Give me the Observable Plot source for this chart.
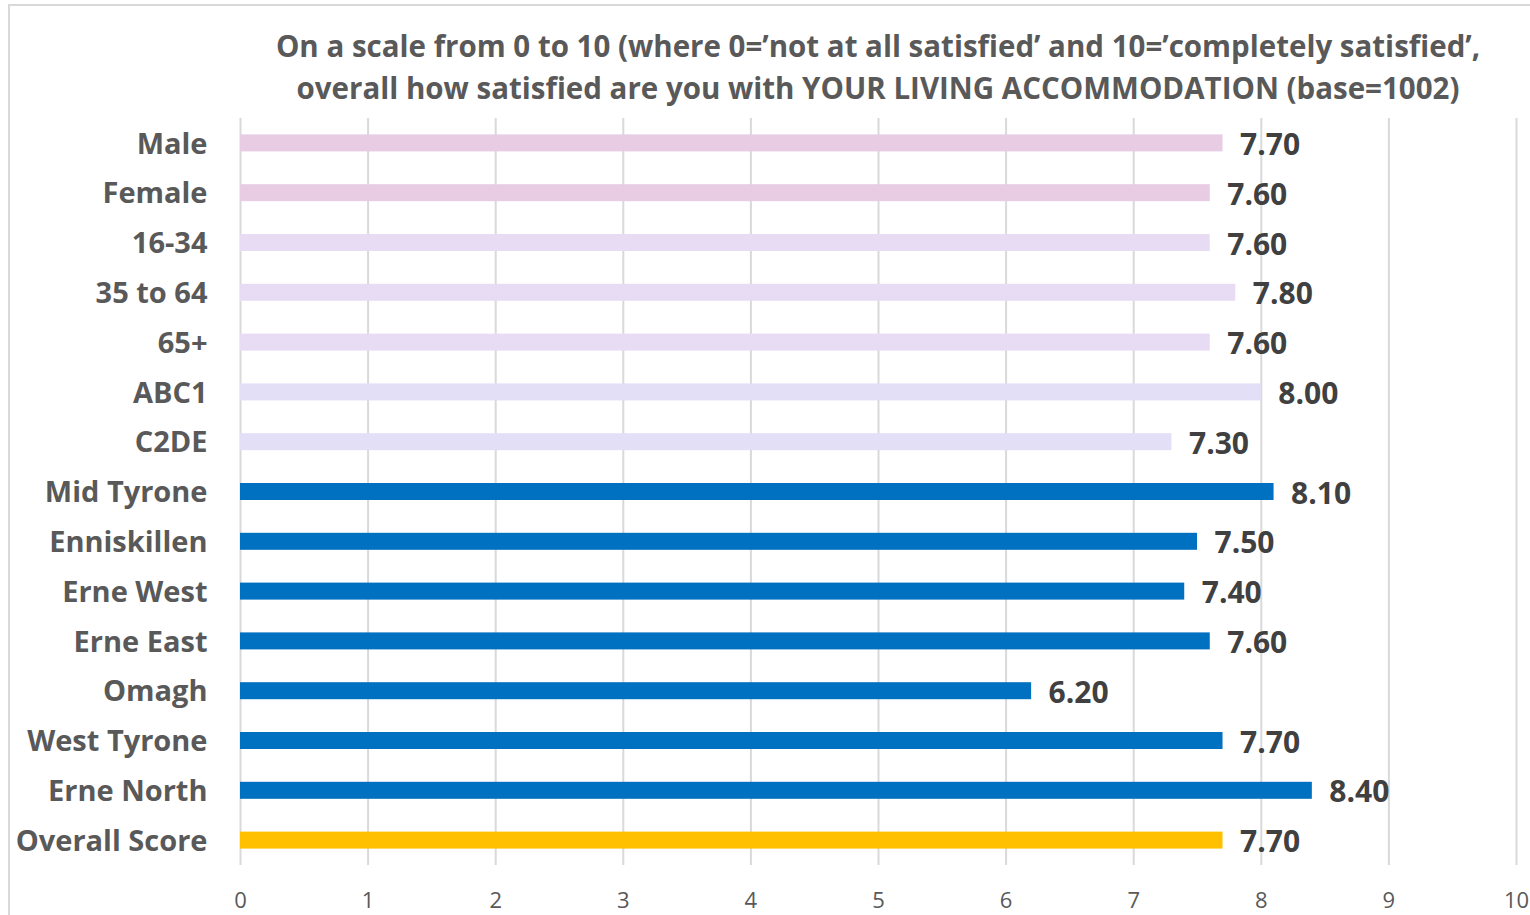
<!DOCTYPE html>
<html>
<head>
<meta charset="utf-8">
<script src="https://cdn.jsdelivr.net/npm/d3@7"></script>
<script src="https://cdn.jsdelivr.net/npm/@observablehq/plot@0.6"></script>
<style>
  html, body { margin: 0; padding: 0; background: #fff; }
  body { width: 1530px; height: 915px; position: relative; overflow: hidden; font-family: "Open Sans", Lato, sans-serif; }
  #frame { position: absolute; left: 8px; top: 4px; width: 1530px; height: 930px; border: 2px solid #d9d9d9; box-sizing: border-box; pointer-events: none; }
  #title { box-sizing: border-box; height: 110px; padding: 25px 14px 0 240px; text-align: center; font-size: 29.5px; line-height: 42px; font-weight: bold; color: #595959; white-space: nowrap; letter-spacing: 0; }
  #chart svg { display: block; }
</style>
</head>
<body>
<div id="frame"></div>
<div id="title">On a scale from 0 to 10 (where 0=’not at all satisfied’ and 10=’completely satisfied’,<br>overall how satisfied are you with YOUR LIVING ACCOMMODATION (base=1002)</div>
<div id="chart"></div>
<script>
const categories = ["Male", "Female", "16-34", "35 to 64", "65+", "ABC1", "C2DE", "Mid Tyrone", "Enniskillen", "Erne West", "Erne East", "Omagh", "West Tyrone", "Erne North", "Overall Score"];
const values = [7.70, 7.60, 7.60, 7.80, 7.60, 8.00, 7.30, 8.10, 7.50, 7.40, 7.60, 6.20, 7.70, 8.40, 7.70];
const groups = ["Gender", "Gender", "Age", "Age", "Age", "Class", "Class", "Area", "Area", "Area", "Area", "Area", "Area", "Area", "Overall"];
const xTicks = [0, 1, 2, 3, 4, 5, 6, 7, 8, 9, 10];

const groupNames = ["Gender", "Age", "Class", "Area", "Overall"];
const groupColors = ["#E7CCE4", "#E8DCF5", "#E2DFF7", "#0070C0", "#FFC000"];

const data = categories.map((c, i) => ({category: c, value: values[i], group: groups[i]}));

const chart = Plot.plot({
  width: 1530,
  height: 805,
  marginLeft: 240,
  marginRight: 14,
  marginTop: 8,
  marginBottom: 50,
  style: {fontFamily: "'Open Sans', Lato, sans-serif", color: "#595959", background: "transparent"},
  x: {domain: [0, 10], ticks: xTicks},
  y: {domain: categories, padding: 0, round: false},
  color: {domain: groupNames, range: groupColors},
  marks: [
    Plot.gridX(xTicks, {stroke: "#d9d9d9", strokeOpacity: 1, strokeWidth: 2}),
    Plot.barX(data, {x: "value", y: "category", fill: "group", insetTop: 16.4, insetBottom: 16.4}),
    Plot.text(data, {x: "value", y: "category", text: d => d.value.toFixed(2), dx: 17, dy: 2, textAnchor: "start", fontSize: 30, fontWeight: "bold", fill: "#404040"}),
    Plot.axisY({tickSize: 0, tickPadding: 33, fontSize: 29, fontWeight: "bold", label: null, dy: 1}),
    Plot.axisX({ticks: xTicks, tickSize: 0, tickPadding: 27, fontSize: 22, label: null, tickFormat: d => String(d)})
  ]
});
document.getElementById("chart").appendChild(chart);
</script>
</body>
</html>
